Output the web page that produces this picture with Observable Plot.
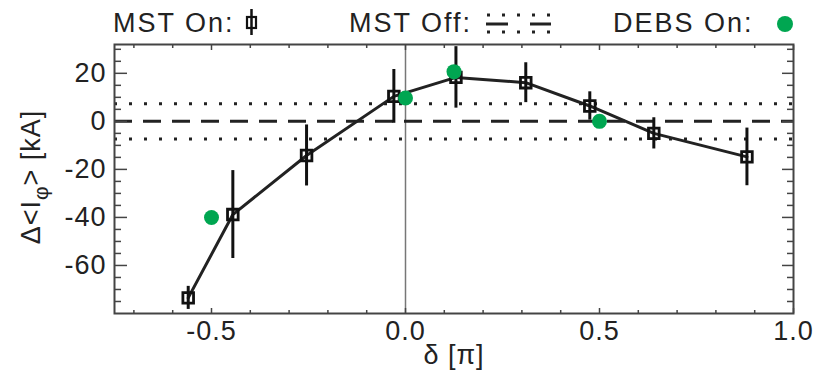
<!DOCTYPE html>
<html><head><meta charset="utf-8">
<script src="https://cdn.jsdelivr.net/npm/d3@7"></script>
<script src="https://cdn.jsdelivr.net/npm/@observablehq/plot@0.6"></script>
<style>body{margin:0;background:#fff}</style>
</head><body><div id="chart"></div>
<script>
// MST On (squares with error bars)
const mstDelta = [-0.56, -0.445, -0.255, -0.03, 0.13, 0.31, 0.475, 0.64, 0.88];
const mstValue = [-73.5, -38.8, -14.2, 10.4, 18.3, 16.1, 6.4, -5.0, -14.8];
const mstError = [4.8, 18.3, 12.7, 11.2, 12.8, 8.3, 5.9, 6.5, 12.0];
// DEBS On (green circles)
const debsDelta = [-0.5, 0.0, 0.125, 0.5];
const debsValue = [-40.0, 9.7, 20.7, 0.0];
// MST Off (mean and band)
const mstOffMean = [0];
const mstOffBand = [-7.3, 7.3];
// ticks
const xMajor = [-0.5, 0.0, 0.5, 1.0];
const xMinor = [-0.7, -0.6, -0.4, -0.3, -0.2, -0.1, 0.1, 0.2, 0.3, 0.4, 0.6, 0.7, 0.8, 0.9];
const yMajor = [-60, -40, -20, 0, 20];
const yMinor = [-75, -70, -65, -55, -50, -45, -35, -30, -25, -15, -10, -5, 5, 10, 15, 25, 30];

const mst = mstDelta.map((d, i) => ({delta: d, value: mstValue[i], err: mstError[i]}));
const debs = debsDelta.map((d, i) => ({delta: d, value: debsValue[i]}));

const ink = "#222";
const axisInk = "#444";
const green = "#00a651";
const font = "'Liberation Sans', Arial, sans-serif";

const plot = Plot.plot({
  width: 818, height: 388,
  marginLeft: 114, marginRight: 25, marginTop: 44, marginBottom: 75,
  x: {domain: [-0.75, 1.0]},
  y: {domain: [-80, 32]},
  style: {fontFamily: font, fontSize: "27px", letterSpacing: "1px", color: ink, background: "white", overflow: "visible"},
  marks: [
    Plot.ruleX([0], {stroke: "#777", strokeWidth: 1.5}),
    Plot.ruleY(mstOffBand, {stroke: ink, strokeWidth: 3, strokeDasharray: "3,12"}),
    Plot.ruleY(mstOffMean, {stroke: ink, strokeWidth: 3, strokeDasharray: "18,11"}),
    Plot.line(mst, {x: "delta", y: "value", stroke: ink, strokeWidth: 3}),
    Plot.ruleX(mst, {x: "delta", y1: d => d.value - d.err, y2: d => d.value + d.err, stroke: "#111", strokeWidth: 3}),
    Plot.dot(mst, {x: "delta", y: "value", symbol: "square", r: 6, fill: "none", stroke: "#111", strokeWidth: 2.8}),
    Plot.dot(debs, {x: "delta", y: "value", r: 7.5, fill: green}),
    // ticks (inward, IDL style)
    Plot.axisX(xMajor, {anchor: "bottom", tickSize: -5, fill: "none", stroke: axisInk, strokeWidth: 1.5, label: null}),
    Plot.axisX(xMinor, {anchor: "bottom", tickSize: -3, fill: "none", stroke: axisInk, strokeWidth: 1.5, label: null}),
    Plot.axisX(xMajor, {anchor: "top", tickSize: -5, fill: "none", stroke: axisInk, strokeWidth: 1.5, label: null}),
    Plot.axisX(xMinor, {anchor: "top", tickSize: -3, fill: "none", stroke: axisInk, strokeWidth: 1.5, label: null}),
    Plot.axisY(yMajor, {anchor: "left", tickSize: -13, fill: "none", stroke: axisInk, strokeWidth: 1.5, label: null}),
    Plot.axisY(yMinor, {anchor: "left", tickSize: -7, fill: "none", stroke: axisInk, strokeWidth: 1.5, label: null}),
    Plot.axisY(yMajor, {anchor: "right", tickSize: -12, fill: "none", stroke: axisInk, strokeWidth: 1.5, label: null}),
    Plot.axisY(yMinor, {anchor: "right", tickSize: -7, fill: "none", stroke: axisInk, strokeWidth: 1.5, label: null}),
    // tick labels
    Plot.axisX(xMajor, {anchor: "bottom", tickSize: 0, tickPadding: 7, tickFormat: d => d.toFixed(1), label: null, fill: ink}),
    Plot.axisY(yMajor, {anchor: "left", tickSize: 0, tickPadding: 8, tickFormat: d => String(d), label: null, fill: ink}),
    Plot.text(["δ [π]"], {frameAnchor: "bottom", dy: 50, fontSize: 27, fill: ink}),
    Plot.frame({stroke: axisInk, strokeWidth: 2})
  ]
});

document.getElementById("chart").appendChild(plot);

const svg = d3.select(plot);
// y-axis label with subscript
const yl = svg.append("text")
  .attr("transform", "translate(40,177) rotate(-90)")
  .attr("text-anchor", "middle")
  .attr("font-family", font).attr("font-size", 27).attr("fill", ink);
yl.append("tspan").text("Δ<I");
yl.append("tspan").attr("font-size", 21).attr("dy", 8).text("φ");
yl.append("tspan").attr("dy", -8).text("> [kA]");

// legend
const lg = svg.append("g").attr("font-family", font).attr("font-size", 27)
  .attr("letter-spacing", "2px").attr("text-anchor", "start").attr("fill", ink);
lg.append("text").attr("x", 113).attr("y", 32).text("MST On:");
lg.append("line").attr("x1", 251.5).attr("x2", 251.5).attr("y1", 9).attr("y2", 35).attr("stroke", "#111").attr("stroke-width", 2.5);
lg.append("rect").attr("x", 247).attr("y", 17).attr("width", 9).attr("height", 11).attr("fill", "none").attr("stroke", "#111").attr("stroke-width", 2.2);
lg.append("text").attr("x", 349).attr("y", 32).text("MST Off:");
lg.append("line").attr("x1", 487).attr("x2", 551).attr("y1", 15).attr("y2", 15).attr("stroke", ink).attr("stroke-width", 3).attr("stroke-dasharray", "3,12");
lg.append("line").attr("x1", 487).attr("x2", 551).attr("y1", 32).attr("y2", 32).attr("stroke", ink).attr("stroke-width", 3).attr("stroke-dasharray", "3,12");
lg.append("line").attr("x1", 486).attr("x2", 551).attr("y1", 24).attr("y2", 24).attr("stroke", ink).attr("stroke-width", 3).attr("stroke-dasharray", "22,22");
lg.append("text").attr("x", 613).attr("y", 32).text("DEBS On:");
lg.append("circle").attr("cx", 785).attr("cy", 24).attr("r", 8).attr("fill", green);
</script>
</body></html>
